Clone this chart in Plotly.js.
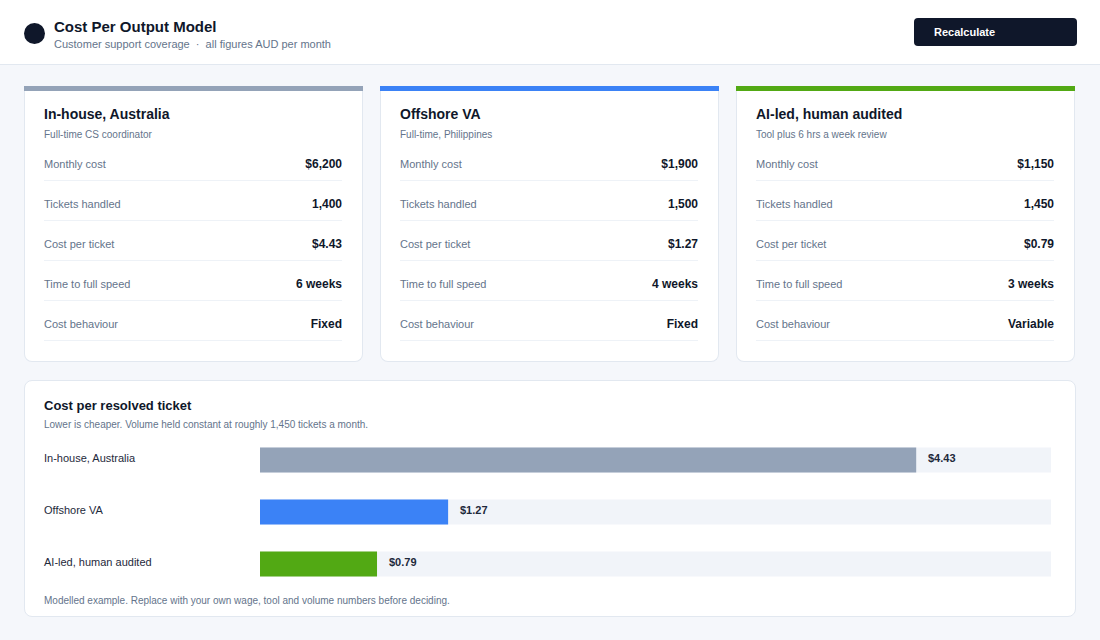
<!DOCTYPE html>
<html>
<head>
<meta charset="utf-8">
<script src="https://cdn.plot.ly/plotly-3.0.1.min.js"></script>
<style>
  * { box-sizing: border-box; }
  body { margin: 0; width: 1100px; height: 640px; background: #f5f7fb; font-family: "Liberation Sans", Arial, sans-serif; color: #0f172a; overflow: hidden; position: relative; }
  .header { position: absolute; left: 0; top: 0; width: 1100px; height: 65px; background: #fff; border-bottom: 1px solid #e2e8f0; }
  .dot { position: absolute; left: 24px; top: 23px; width: 21px; height: 21px; border-radius: 50%; background: #0f172a; }
  .htitle { position: absolute; left: 54px; top: 18px; font-size: 15px; font-weight: bold; line-height: 18px; }
  .hsub { position: absolute; left: 54px; top: 38px; font-size: 11px; color: #64748b; line-height: 13px; }
  .btn { position: absolute; left: 914px; top: 18px; width: 163px; height: 28px; background: #0f172a; border-radius: 4px; color: #fff; font-size: 11px; font-weight: bold; line-height: 28px; padding-left: 20px; }
  .card { position: absolute; top: 86px; width: 339px; height: 276px; background: #fff; border: 1px solid #e2e8f0; border-top: none; border-radius: 0 0 8px 8px; padding: 0 20px 0 19px; }
  .card .bar { position: absolute; left: -1px; right: -1px; top: 0; height: 5px; }
  .card .ct { margin-top: 19px; font-size: 14px; font-weight: bold; line-height: 18px; }
  .card .cs { margin-top: 6px; font-size: 10px; color: #64748b; line-height: 12px; }
  .row { display: flex; justify-content: space-between; height: 40px; border-bottom: 1px solid #eef2f7; padding-top: 15px; line-height: 16px; }
  .row .l { font-size: 11px; color: #64748b; }
  .row .v { font-size: 12px; font-weight: bold; }
  .chartcard { position: absolute; left: 24px; top: 380px; width: 1052px; height: 237px; background: #fff; border: 1px solid #e2e8f0; border-radius: 8px; }
  .chartcard .t { position: absolute; left: 19px; top: 17px; font-size: 13px; font-weight: bold; line-height: 16px; }
  .chartcard .s { position: absolute; left: 19px; top: 38px; font-size: 10px; color: #64748b; line-height: 12px; }
  .chartcard .f { position: absolute; left: 19px; top: 214px; font-size: 10px; color: #64748b; line-height: 12px; }
  #chart { position: absolute; left: 24px; top: 424px; width: 1052px; height: 176px; }
</style>
</head>
<body>
<div class="header">
  <div class="dot"></div>
  <div class="htitle">Cost Per Output Model</div>
  <div class="hsub">Customer support coverage &nbsp;·&nbsp; all figures AUD per month</div>
  <div class="btn">Recalculate</div>
</div>
<div id="cards"></div>
<div class="chartcard">
  <div class="t">Cost per resolved ticket</div>
  <div class="s">Lower is cheaper. Volume held constant at roughly 1,450 tickets a month.</div>
  <div class="f">Modelled example. Replace with your own wage, tool and volume numbers before deciding.</div>
</div>
<div id="chart"></div>
<script>
// options being compared
var models = ["In-house, Australia", "Offshore VA", "AI-led, human audited"];
var modelNotes = ["Full-time CS coordinator", "Full-time, Philippines", "Tool plus 6 hrs a week review"];
var colours = ["#94a3b8", "#3b82f6", "#52a914"];

var rowLabels = ["Monthly cost", "Tickets handled", "Cost per ticket", "Time to full speed", "Cost behaviour"];
var monthlyCost = [6200, 1900, 1150];
var tickets = [1400, 1500, 1450];
var costPerTicket = [4.43, 1.27, 0.79];
var rampWeeks = [6, 4, 3];
var behaviour = ["Fixed", "Fixed", "Variable"];

var xMax = 5.34;

function money(v) { return "$" + v.toLocaleString("en-US"); }

// cards
var cardsDiv = document.getElementById("cards");
for (var i = 0; i < models.length; i++) {
    var vals = [money(monthlyCost[i]), tickets[i].toLocaleString("en-US"),
        "$" + costPerTicket[i].toFixed(2), rampWeeks[i] + " weeks", behaviour[i]];
    var html = '<div class="bar" style="background:' + colours[i] + '"></div>';
    html += '<div class="ct">' + models[i] + '</div><div class="cs">' + modelNotes[i] + '</div>';
    for (var r = 0; r < rowLabels.length; r++) {
        html += '<div class="row"><span class="l">' + rowLabels[r] + '</span><span class="v">' + vals[r] + '</span></div>';
    }
    var card = document.createElement("div");
    card.className = "card";
    card.style.left = (24 + i * 356) + "px";
    card.innerHTML = html;
    cardsDiv.appendChild(card);
}

// bar chart
var shapes = [];
var annotations = [];
for (var i = 0; i < models.length; i++) {
    shapes.push({
        type: "rect", xref: "paper", yref: "y", x0: 0, x1: 1,
        y0: i - 0.24, y1: i + 0.24, fillcolor: "#f1f4f9", line: { width: 0 }, layer: "below"
    });
    annotations.push({
        xref: "paper", yref: "y", x: -0.2756, y: models[i], xanchor: "left", yshift: 2,
        text: models[i], showarrow: false, font: { size: 11, color: "#1e293b" }
    });
    annotations.push({
        xref: "x", yref: "y", x: costPerTicket[i], y: models[i], xanchor: "left", xshift: 10, yshift: 2,
        text: "<b>$" + costPerTicket[i].toFixed(2) + "</b>", showarrow: false,
        font: { size: 11, color: "#1e293b" }
    });
}

var trace = {
    type: "bar", orientation: "h",
    x: costPerTicket, y: models,
    width: 0.48,
    marker: { color: colours },
    hoverinfo: "skip"
};

var layout = {
    width: 1052, height: 176,
    margin: { l: 236, r: 25, t: 10, b: 10 },
    paper_bgcolor: "rgba(0,0,0,0)", plot_bgcolor: "rgba(0,0,0,0)",
    font: { family: "Liberation Sans, Arial, sans-serif" },
    xaxis: { range: [0, xMax], visible: false, fixedrange: true },
    yaxis: { type: "category", categoryorder: "array", categoryarray: models, range: [2.5, -0.5],
        showticklabels: false, showgrid: false, zeroline: false, fixedrange: true },
    shapes: shapes,
    annotations: annotations,
    showlegend: false
};

Plotly.newPlot("chart", [trace], layout, { displayModeBar: false, staticPlot: true });
</script>
</body>
</html>
